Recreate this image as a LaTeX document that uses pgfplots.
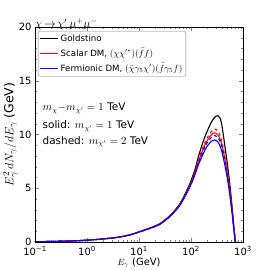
\documentclass[border=0pt]{standalone}
\usepackage{fontspec}
\setmainfont{DejaVu Sans}
\usepackage{pgfplots}
\pgfplotsset{compat=1.18}
\usepackage{pgfplotstable}
\pgfplotstableread{
E v
0.1 0.03
0.2 0.05
0.5 0.10
1 0.17
2 0.28
4 0.45
7 0.70
10 0.95
15 1.25
25 1.7
40 2.5
60 3.5
83 4.8
100 5.7
120 6.8
138 7.9
170 9.3
200 10.2
250 11.2
300 11.7
330 11.75
360 11.55
390 10.95
437 9.3
490 7.6
537 6.1
580 4.6
624 3.0
660 1.7
700 0.4
720 0.0
}\gold
\pgfplotstableread{
E v
0.1 0.03
0.2 0.05
0.5 0.10
1 0.17
2 0.28
4 0.45
7 0.69
10 0.94
15 1.23
25 1.67
40 2.45
60 3.42
83 4.65
100 5.5
120 6.5
138 7.45
170 8.6
200 9.35
250 10.0
290 10.15
330 9.95
360 9.6
390 9.1
437 8.0
490 6.7
537 5.45
580 4.15
624 2.8
660 1.6
700 0.4
720 0
}\scalarA
\pgfplotstableread{
E v
0.1 0.03
0.2 0.05
0.5 0.10
1 0.17
2 0.28
4 0.45
7 0.69
10 0.94
15 1.23
25 1.67
40 2.46
60 3.44
83 4.7
100 5.55
120 6.6
138 7.6
170 8.8
200 9.6
250 10.3
290 10.5
330 10.3
360 9.95
390 9.4
437 8.25
490 6.9
537 5.6
580 4.25
624 2.85
660 1.6
700 0.4
720 0
}\scalarB
\pgfplotstableread{
E v
0.1 0.03
0.2 0.05
0.5 0.10
1 0.17
2 0.28
4 0.44
7 0.68
10 0.92
15 1.2
25 1.63
40 2.4
60 3.35
83 4.55
100 5.35
120 6.3
138 7.15
170 8.15
200 8.85
250 9.4
285 9.5
330 9.3
360 8.95
390 8.45
437 7.4
490 6.15
537 4.95
580 3.75
624 2.45
660 1.35
700 0.25
712 0
}\fermA
\pgfplotstableread{
E v
0.1 0.03
0.2 0.05
0.5 0.10
1 0.17
2 0.28
4 0.44
7 0.68
10 0.92
15 1.21
25 1.64
40 2.42
60 3.38
83 4.6
100 5.4
120 6.4
138 7.3
170 8.4
200 9.15
250 9.75
285 9.9
330 9.7
360 9.35
390 8.85
437 7.75
490 6.45
537 5.2
580 3.9
624 2.55
660 1.4
700 0.3
712 0
}\fermB
\begin{document}
\begin{tikzpicture}
\useasboundingbox (-35bp,-28bp) rectangle (235bp,242bp);
\begin{axis}[
  at={(0,0)}, anchor=south west,
  width=208bp, height=215bp, scale only axis,
  xmode=log, xmin=0.1, xmax=1000, ymin=0, ymax=20,
  xtick={0.1,1,10,100,1000},
  xticklabels={10\textsuperscript{−1},10\textsuperscript{0},10\textsuperscript{1},10\textsuperscript{2},10\textsuperscript{3}},
  ytick={0,5,10,15,20},
  minor y tick num=4,
  tick pos=both, tick align=inside,
  major tick length=4bp, minor tick length=2bp,
  /pgf/number format/assume math mode=true,
  tick label style={font=\fontsize{10}{10}\selectfont},
  xticklabel style={yshift=-1bp},
  xlabel={{\fontsize{9}{9}\selectfont$E_\gamma$} (GeV)},
  xlabel style={font=\fontsize{10}{10}\selectfont, yshift=4bp},
  ylabel={$E_\gamma^2\,dN_\gamma/dE_\gamma$ (GeV)},
  ylabel style={font=\fontsize{12.5}{12.5}\selectfont, yshift=-6bp},
  legend style={at={(0.014,0.981)}, anchor=north west, draw=gray, rounded corners=2bp,
    font=\fontsize{8.7}{9}\selectfont, row sep=2bp, inner sep=1.5bp},
  legend cell align=left,
  legend image code/.code={\draw[#1] (0bp,0bp) -- (18bp,0bp);},
  every axis plot/.append style={line width=1.1pt},
  clip mode=individual,
]
\addplot[black, smooth, tension=0.5] table[x=E,y=v] {\gold};
\addlegendentry{Goldstino}
\addplot[red, smooth, tension=0.5] table[x=E,y=v] {\scalarA};
\addlegendentry{Scalar DM, $(\chi\chi'^*)(\bar f f)$}
\addplot[blue, smooth, tension=0.5] table[x=E,y=v] {\fermA};
\addlegendentry{Fermionic DM, $(\bar\chi\gamma_5\chi')(\bar f\gamma_5 f)$}
\addplot[red, dashed, smooth, tension=0.5, forget plot] table[x=E,y=v] {\scalarB};
\addplot[blue, dashed, smooth, tension=0.5, forget plot] table[x=E,y=v] {\fermB};
\node[anchor=west, font=\fontsize{10.5}{11}\selectfont] at (rel axis cs:0.02,0.623) {$m_\chi{-}m_{\chi'}=1$ TeV};
\node[anchor=west, font=\fontsize{10.5}{11}\selectfont] at (rel axis cs:0.02,0.54) {solid: $m_{\chi'}=1$ TeV};
\node[anchor=west, font=\fontsize{10.5}{11}\selectfont] at (rel axis cs:0.02,0.467) {dashed: $m_{\chi'}=2$ TeV};
\node[anchor=south west, inner sep=0pt, font=\fontsize{12}{12}\selectfont] at (rel axis cs:0,0.985) {$\chi\!\to\!\chi'\,\mu^+\mu^-$};
\end{axis}
\end{tikzpicture}
\end{document}
